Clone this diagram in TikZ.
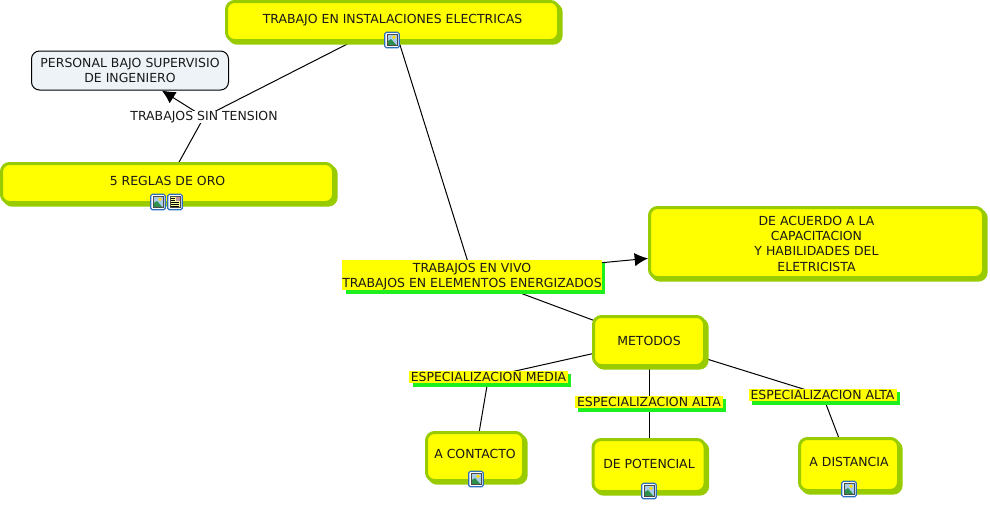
\documentclass[tikz,border=0pt]{standalone}
\usepackage{fontspec}
\setmainfont{DejaVu Sans}
\usetikzlibrary{shadows,backgrounds,arrows.meta}
\definecolor{boxyellow}{HTML}{FFFF00}
\definecolor{boxgreen}{HTML}{99CC00}
\definecolor{labgreen}{HTML}{1EF01E}
\definecolor{persfill}{HTML}{EEF3F7}
\definecolor{icoblue}{HTML}{2F6FC0}
\definecolor{icosky}{HTML}{A9CDE8}
\definecolor{icohill}{HTML}{2F8F4F}
\tikzset{
  x=0.75pt,y=-0.75pt,
  every node/.style={font=\fontsize{9.35}{11.4}\selectfont,text=black!90,align=center,inner sep=0pt},
  ybox/.style={draw=boxgreen,fill=boxyellow,line width=2.25pt,rounded corners=6pt,
    general shadow={fill=boxgreen,draw=boxgreen,line width=2.25pt,shadow xshift=2pt,shadow yshift=-2pt}},
  ylabel/.style={fill=boxyellow,
    general shadow={fill=labgreen,shadow xshift=2.6pt,shadow yshift=-2.6pt}},
  plainlabel/.style={fill=white},
  persbox/.style={draw=black,fill=persfill,line width=0.75pt,rounded corners=6pt},
  link/.style={draw=black,line width=0.75pt},
  arrowlink/.style={link,-{Latex[length=10pt,width=10pt]}},
  pics/imgicon/.style={code={
    \draw[icoblue,line width=0.9pt,fill=white,rounded corners=1.2pt] (-7.2,-7.8) rectangle (7.2,7.8);
    \fill[icosky] (-5,-5.8) rectangle (5,5.8);
    \fill[icohill] (-5,5.8) -- (-5,1.5) -- (-1,-1) -- (5,5.8) -- cycle;
    \fill[yellow!80!orange] (2,-2.8) circle (1.9);
    \draw[black!70,line width=0.5pt] (-5,-5.8) rectangle (5,5.8);
  }},
  pics/docicon/.style={code={
    \draw[icoblue,line width=0.9pt,fill=white,rounded corners=1.2pt] (-7.2,-7.8) rectangle (7.2,7.8);
    \fill[boxyellow!40] (-5,-5.8) rectangle (5,5.8);
    \draw[black!70,line width=0.5pt] (-5,-5.8) rectangle (5,5.8);
    \fill[icosky!70!red] (0.5,-5.3) rectangle (4.5,-1);
    \foreach \yy in {-3.5,-1.5,0.5,2.5,4.2} \draw[black,line width=0.5pt] (-3.8,\yy) -- (\ifdim\yy pt<0pt -0.5\else 3.8\fi,\yy);
  }},
}
\begin{document}
\begin{tikzpicture}
\useasboundingbox (0,0) rectangle (990,504);
% concepts
\node[ybox,minimum width=249pt,minimum height=29.25pt,text depth=3pt] (main) at (392.5,21) {TRABAJO EN INSTALACIONES ELECTRICAS};
\node[persbox,minimum width=147.75pt,minimum height=29.25pt] (pers) at (130,70.5) {PERSONAL BAJO SUPERVISIO\\DE INGENIERO};
\node[ybox,minimum width=249pt,minimum height=29.25pt,text depth=3pt] (reglas) at (167.5,183) {5 REGLAS DE ORO};
\node[ybox,minimum width=250.5pt,minimum height=52.5pt,text height=43pt] (acuerdo) at (816.5,242.5) {DE ACUERDO A LA\\CAPACITACION\\Y HABILIDADES DEL\\ELETRICISTA};
\node[ybox,minimum width=83.25pt,minimum height=36.75pt] (metodos) at (649,341) {METODOS};
\node[ybox,minimum width=72.75pt,minimum height=36pt,text depth=3.5pt] (contacto) at (475,456.5) {A CONTACTO};
\node[ybox,minimum width=84pt,minimum height=39pt,text depth=2pt] (potencial) at (649,465.5) {DE POTENCIAL};
\node[ybox,minimum width=74.25pt,minimum height=39pt,text depth=3.5pt] (distancia) at (849,464.5) {A DISTANCIA};
% linking phrases
\node[plainlabel,minimum width=115pt,minimum height=9.5pt] (sin) at (204,117) {TRABAJOS SIN TENSION};
\node[ylabel,minimum width=193.5pt,minimum height=19.5pt,text height=21pt] (vivo) at (472,275) {TRABAJOS EN VIVO\\TRABAJOS EN ELEMENTOS ENERGIZADOS};
\node[ylabel,minimum width=119pt,minimum height=9.5pt] (media) at (488.5,377) {ESPECIALIZACION MEDIA};
\node[ylabel,minimum width=111pt,minimum height=9.5pt] (alta1) at (649,402) {ESPECIALIZACION ALTA};
\node[ylabel,minimum width=111pt,minimum height=9.5pt] (alta2) at (822.5,395) {ESPECIALIZACION ALTA};
% connectors
\begin{pgfonlayer}{background}
\fill[white] (0,0) rectangle (990,504);
\draw[link] (main.center) -- (sin.center);
\draw[arrowlink] (sin.center) -- (pers);
\draw[link] (sin.center) -- (reglas.center);
\draw[link] (main.center) -- (vivo.center);
\draw[arrowlink] (vivo.center) -- (acuerdo);
\draw[link] (vivo.center) -- (metodos.center);
\draw[link] (metodos.center) -- (media.center);
\draw[link] (media.center) -- (contacto.center);
\draw[link] (metodos.center) -- (alta1.center);
\draw[link] (alta1.center) -- (potencial.center);
\draw[link] (metodos.center) -- (alta2.center);
\draw[link] (alta2.center) -- (distancia.center);
\end{pgfonlayer}
% resource icons
\pic at (392,40) {imgicon};
\pic at (158,202) {imgicon};
\pic at (175,202) {docicon};
\pic at (476,479) {imgicon};
\pic at (649,491) {imgicon};
\pic at (849,489) {imgicon};
\end{tikzpicture}
\end{document}
